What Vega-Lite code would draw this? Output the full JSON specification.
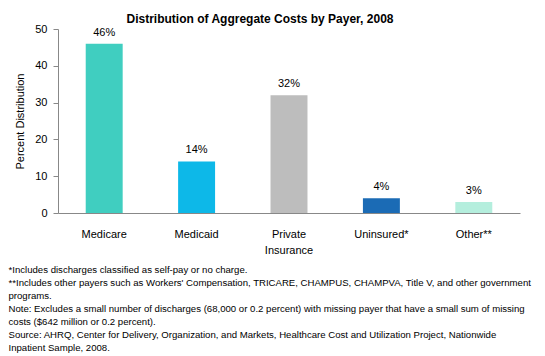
{
  "$schema": "https://vega.github.io/schema/vega-lite/v6.json",
  "autosize": "none",
  "width": 462,
  "height": 184,
  "padding": {"left": 58, "top": 29, "right": 25, "bottom": 143},
  "background": "white",
  "config": {"view": {"stroke": null}, "font": "Liberation Sans"},
  "title": {"text": "Distribution of Aggregate Costs by Payer, 2008", "fontSize": 12, "fontWeight": "bold", "color": "#000000", "anchor": "middle", "dx": -29, "offset": -3, "font": "Liberation Sans"},
  "data": {"values": [
    {"payer": "Medicare", "value": 46},
    {"payer": "Medicaid", "value": 14},
    {"payer": "Private Insurance", "value": 32},
    {"payer": "Uninsured*", "value": 4},
    {"payer": "Other**", "value": 3}
  ]},
  "transform": [{"calculate": "datum.value + '%'", "as": "label"}],
  "encoding": {
    "x": {"field": "payer", "type": "nominal", "sort": null,
      "scale": {"paddingInner": 0.6, "paddingOuter": 0.3},
      "axis": {"labelAngle": 0, "ticks": false, "domainColor": "#888888", "labelColor": "#000000", "labelFontSize": 11, "labelPadding": 15,
        "labelExpr": "datum.label == 'Private Insurance' ? ['Private', 'Insurance'] : datum.label", "labelLineHeight": 16,
        "title": ["*Includes discharges classified as self-pay or no charge.", "**Includes other payers such as Workers' Compensation, TRICARE, CHAMPUS, CHAMPVA, Title V, and other government", "programs.", "Note: Excludes a small number of discharges (68,000 or 0.2 percent) with missing payer that have a small sum of missing", "costs ($642 million or 0.2 percent).", "Source:  AHRQ, Center for Delivery, Organization, and Markets, Healthcare Cost and Utilization Project, Nationwide", "Inpatient Sample, 2008."],
        "titleAnchor": "start", "titleAlign": "left", "titleBaseline": "top", "titleX": -50, "titleY": 51, "titleFontSize": 9.6, "titleFontWeight": "normal", "titleColor": "#000000", "titleLineHeight": 13.1}
    },
    "y": {"field": "value", "type": "quantitative", "scale": {"domain": [0, 50]},
      "axis": {"values": [0, 10, 20, 30, 40, 50], "grid": false, "domainColor": "#888888", "tickColor": "#888888", "tickSize": 5, "labelColor": "#000000", "labelFontSize": 11, "labelPadding": 6,
        "title": "Percent Distribution", "titleFontSize": 11, "titleFontWeight": "normal", "titleColor": "#000000", "titlePadding": 9}
    }
  },
  "layer": [
    {"mark": {"type": "bar"},
     "encoding": {"color": {"field": "payer", "type": "nominal", "legend": null,
       "scale": {"domain": ["Medicare", "Medicaid", "Private Insurance", "Uninsured*", "Other**"], "range": ["#40CEC0", "#0DB8E8", "#BDBDBD", "#1B6BB5", "#B4EEDD"]}}}},
    {"mark": {"type": "text", "dy": -11, "fontSize": 11, "color": "#000000"},
     "encoding": {"text": {"field": "label"}}}
  ]
}
